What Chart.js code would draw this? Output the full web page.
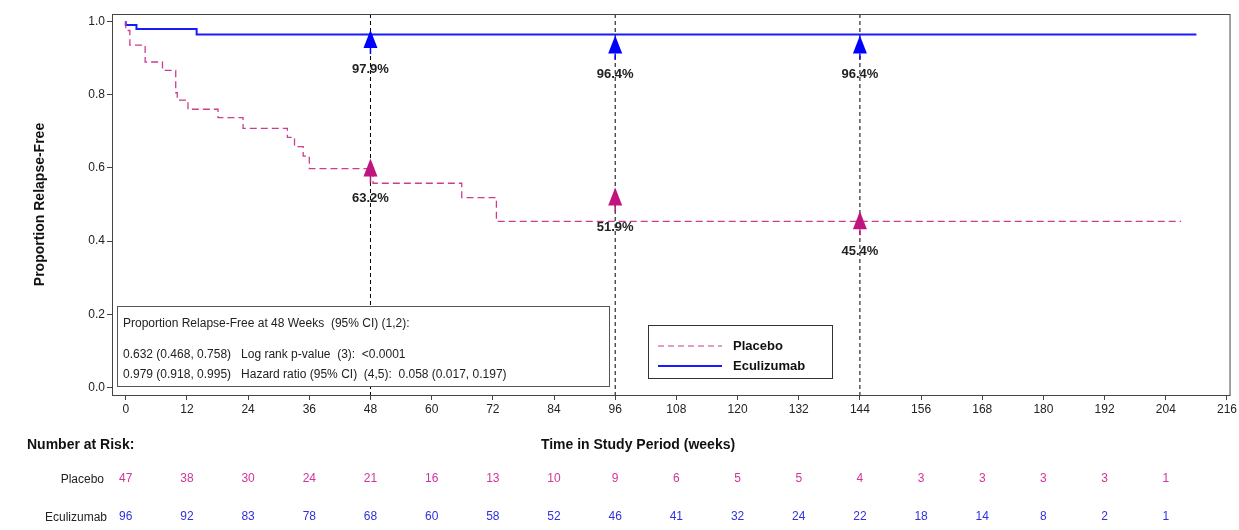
<!DOCTYPE html>
<html><head><meta charset="utf-8">
<script src="https://cdn.jsdelivr.net/npm/chart.js@4/dist/chart.umd.min.js"></script>
<style>html,body{margin:0;padding:0;background:#fff}#w{width:1239px;height:530px}</style>
</head><body><div id="w"><canvas id="c" width="1239" height="530"></canvas></div>
<script>
const placeboT = [0,0.8,3.8,7.2,9.8,10.1,12.2,18.1,23,31.7,33.1,34.8,36,48.5,65.9,72.7,102.6,207];
const placeboS = [1,0.975,0.935,0.889,0.866,0.805,0.785,0.76,0.737,0.708,0.683,0.658,0.632,0.598,0.558,0.519,0.454,0.454];
const ecuT = [0,2.1,13.9,48.5,210];
const ecuS = [1,0.99,0.979,0.964,0.964];
const markWeeks = [48,96,144];
const placeboMark = [0.598,0.519,0.454];
const ecuMark = [0.979,0.964,0.964];
const placeboLbl = ['63.2%','51.9%','45.4%'];
const ecuLbl = ['97.9%','96.4%','96.4%'];
const xTicks = [0,12,24,36,48,60,72,84,96,108,120,132,144,156,168,180,192,204,216];
const riskWeeks = [0,12,24,36,48,60,72,84,96,108,120,132,144,156,168,180,192,204];
const riskPlacebo = [47,38,30,24,21,16,13,10,9,6,5,5,4,3,3,3,3,1];
const riskEcu = [96,92,83,78,68,60,58,52,46,41,32,24,22,18,14,8,2,1];
const PINK='#cc3d8f', BLUE='#1a1aff', PINKT='#d0359a', BLUET='#3030e0';
const pts=(t,s)=>t.map((x,i)=>({x,y:s[i]}));

const extra={id:'extra',
 afterDatasetsDraw(ch){
  const c=ch.ctx,xs=ch.scales.x,ys=ch.scales.y,a=ch.chartArea;
  c.save();
  c.strokeStyle='#000';c.lineWidth=1;c.setLineDash([4,3]);
  markWeeks.forEach(w=>{const x=xs.getPixelForValue(w);c.beginPath();c.moveTo(x,a.top);c.lineTo(x,a.bottom);c.stroke();});
  c.setLineDash([]);
  const tri=(x,y,col)=>{c.fillStyle=col;c.beginPath();c.moveTo(x,y);c.lineTo(x-7,y+18);c.lineTo(x+7,y+18);c.closePath();c.fill();
    c.strokeStyle=col;c.lineWidth=1.5;c.beginPath();c.moveTo(x,y+18);c.lineTo(x,y+24);c.stroke();};
  c.font='bold 13px Arial, "Liberation Sans"';c.textAlign='center';c.textBaseline='middle';
  markWeeks.forEach((w,i)=>{const x=xs.getPixelForValue(w);
    let y=ys.getPixelForValue(ecuMark[i]);tri(x,y+1,'#0000ff');c.fillStyle='#222';c.fillText(ecuLbl[i],x,y+40);
    y=ys.getPixelForValue(placeboMark[i]);tri(x,y-10,'#c0157e');c.fillStyle='#222';c.fillText(placeboLbl[i],x,y+30);});
  c.fillStyle='#fff';c.strokeStyle='#555';c.lineWidth=1;
  c.fillRect(117,306,492,80);c.strokeRect(117.5,306.5,492,80);
  c.fillStyle='#222';c.font='12px Arial, "Liberation Sans"';c.textAlign='left';
  c.fillText('Proportion Relapse-Free at 48 Weeks  (95% CI) (1,2):',123,324);
  c.fillText('0.632 (0.468, 0.758)   Log rank p-value  (3):  <0.0001',123,355);
  c.fillText('0.979 (0.918, 0.995)   Hazard ratio (95% CI)  (4,5):  0.058 (0.017, 0.197)',123,375);
  c.fillStyle='#fff';c.fillRect(648,325,184,53);c.strokeStyle='#333';c.strokeRect(648.5,325.5,184,53);
  c.strokeStyle=PINK;c.lineWidth=1.2;c.setLineDash([6,4]);c.beginPath();c.moveTo(658,346);c.lineTo(722,346);c.stroke();c.setLineDash([]);
  c.strokeStyle=BLUE;c.lineWidth=1.8;c.beginPath();c.moveTo(658,366);c.lineTo(722,366);c.stroke();
  c.fillStyle='#111';c.font='bold 13px Arial, "Liberation Sans"';c.fillText('Placebo',733,346);c.fillText('Eculizumab',733,366);
  c.fillStyle='#111';c.font='bold 14px Arial, "Liberation Sans"';
  c.fillText('Number at Risk:',27,445);
  c.textAlign='center';c.fillText('Time in Study Period (weeks)',638,445);
  c.font='12px Arial, "Liberation Sans"';c.textAlign='right';c.fillStyle='#222';
  c.fillText('Placebo',104,480);c.fillText('Eculizumab',107,518);
  c.textAlign='center';
  riskWeeks.forEach((w,i)=>{const x=xs.getPixelForValue(w);
    c.fillStyle=PINKT;c.fillText(String(riskPlacebo[i]),x,479);c.fillStyle=BLUET;c.fillText(String(riskEcu[i]),x,517);});
  c.restore();
 }};

const gridOpt={display:true,drawOnChartArea:false,drawTicks:true,tickLength:5,color:'#444'};
new Chart(document.getElementById('c'),{
 type:'line',
 data:{datasets:[
  {label:'Placebo',data:pts(placeboT,placeboS),stepped:'after',borderColor:PINK,borderWidth:1.3,borderDash:[7,4],pointRadius:0,fill:false},
  {label:'Eculizumab',data:pts(ecuT,ecuS),stepped:'after',borderColor:BLUE,borderWidth:2,pointRadius:0,fill:false}
 ]},
 options:{responsive:false,animation:false,
  layout:{padding:{left:28,right:3,top:14,bottom:110}},
  plugins:{legend:{display:false},tooltip:{enabled:false}},
  scales:{
   x:{type:'linear',min:-2.7,max:216.5,grid:gridOpt,border:{color:'#444'},
      afterBuildTicks:s=>{s.ticks=xTicks.map(v=>({value:v}));},
      afterFit:s=>{s.height=25;},
      ticks:{color:'#222',font:{size:12,family:'Arial'},autoSkip:false,maxRotation:0,padding:2}},
   y:{min:-0.02,max:1.02,grid:gridOpt,border:{color:'#444'},
      afterBuildTicks:s=>{s.ticks=[0,0.2,0.4,0.6,0.8,1].map(v=>({value:v}));},
      afterFit:s=>{s.width=84;},
      ticks:{color:'#222',font:{size:12,family:'Arial'},padding:2,callback:v=>v.toFixed(1)},
      title:{display:true,text:'Proportion Relapse-Free',color:'#111',font:{size:14,weight:'bold',family:'Arial'},padding:{bottom:20}}}
  }},
 plugins:[extra,{id:'frame',afterDraw(ch){const a=ch.chartArea,c=ch.ctx;c.save();c.strokeStyle='#444';c.strokeRect(a.left+0.5,a.top+0.5,a.right-a.left,a.bottom-a.top);c.restore();}}]
});
</script></body></html>
